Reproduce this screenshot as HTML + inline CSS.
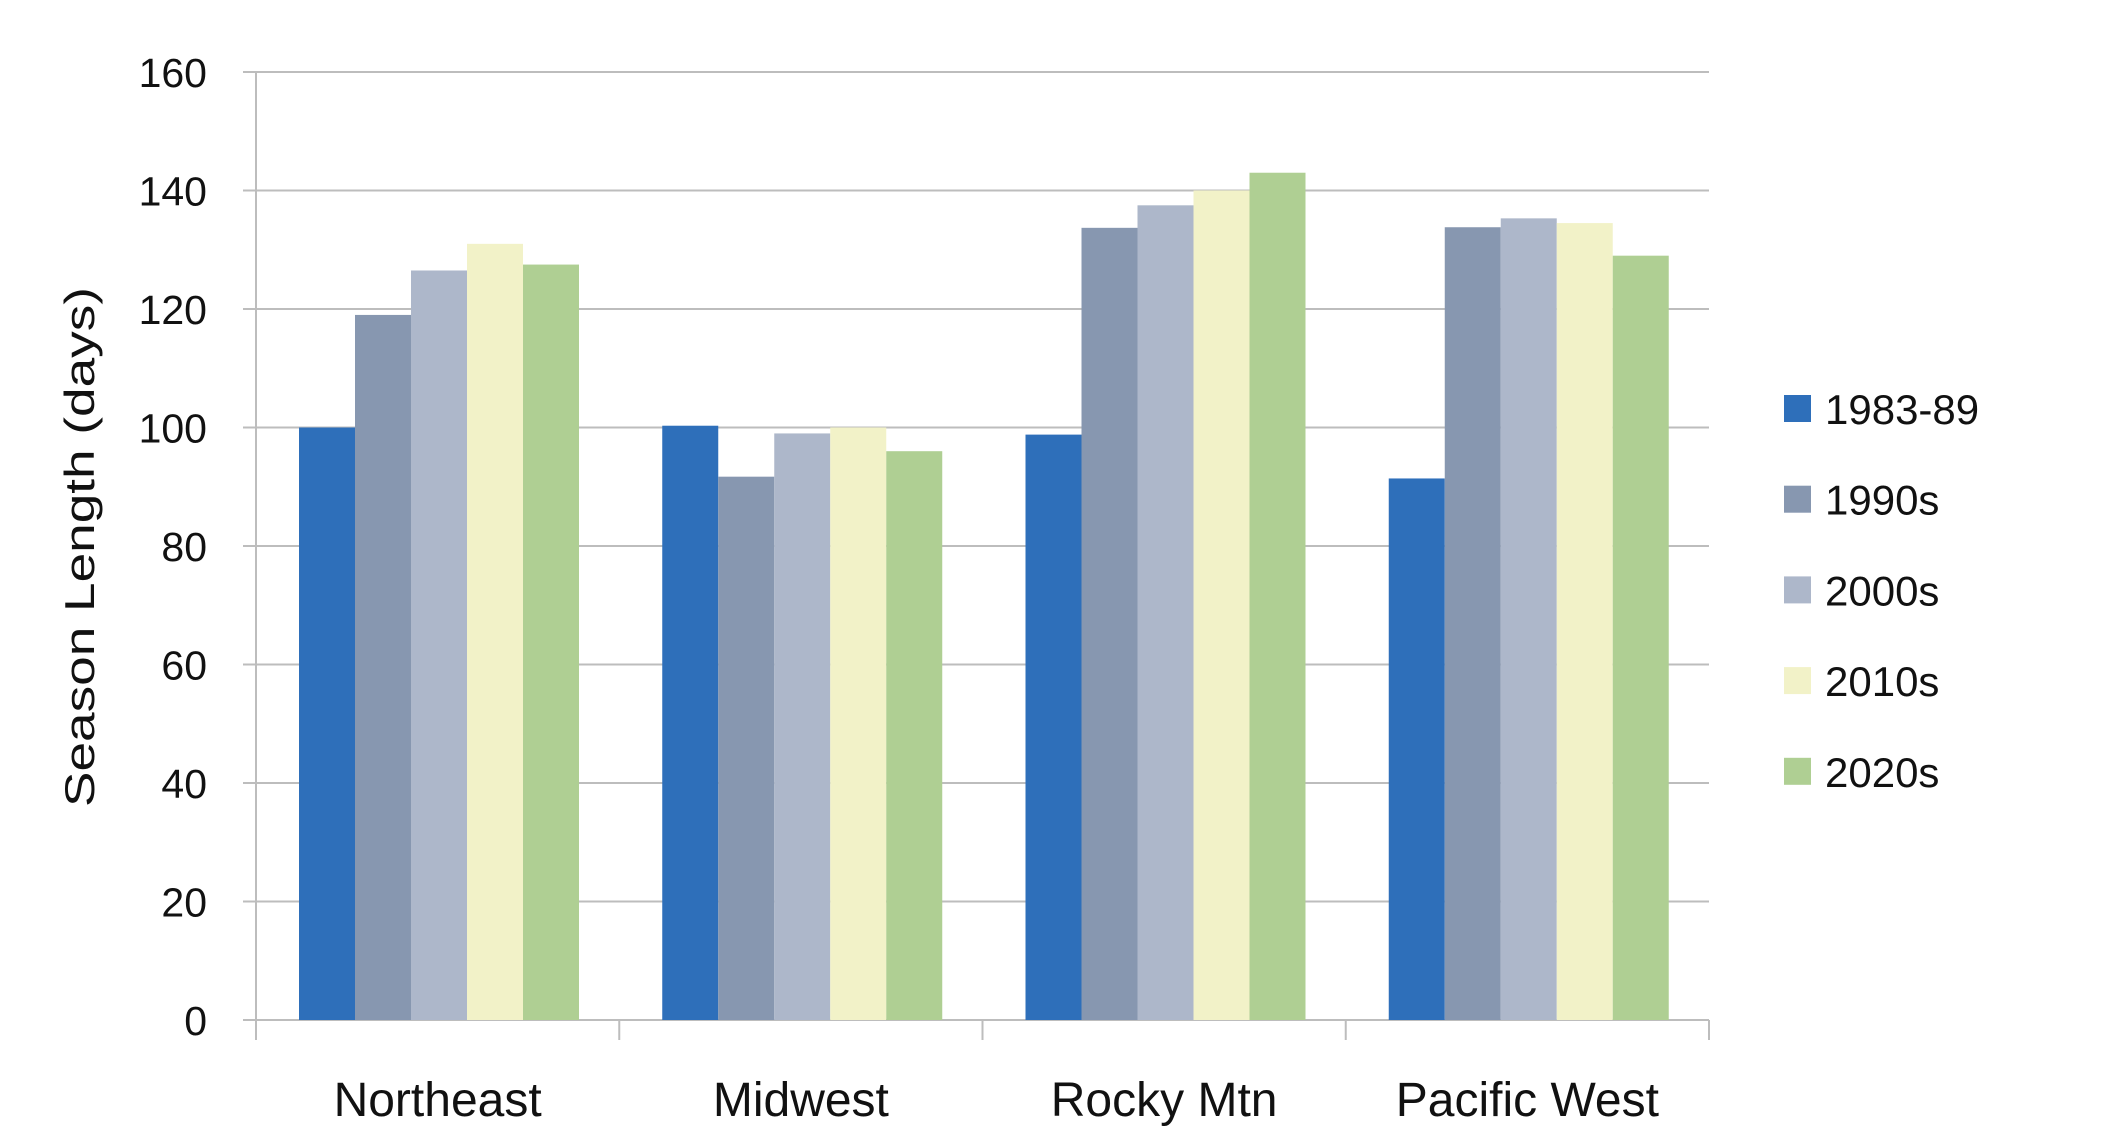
<!DOCTYPE html>
<html><head><meta charset="utf-8"><style>
html,body{margin:0;padding:0;background:#fff;}
svg{display:block;font-family:"Liberation Sans",sans-serif;}
</style></head><body>
<svg id="chart" width="2112" height="1142" viewBox="0 0 2112 1142" xmlns="http://www.w3.org/2000/svg">
<g id="grid"></g>
<g id="bars"></g>
<g id="axes"></g>
<g id="legend"></g>
<text transform="translate(94,547) rotate(-90)" text-anchor="middle" font-size="42" fill="#111" textLength="520" lengthAdjust="spacingAndGlyphs">Season Length (days)</text>
</svg>
<script>
const categories = ["Northeast","Midwest","Rocky Mtn","Pacific West"];
const seriesNames = ["1983-89","1990s","2000s","2010s","2020s"];
const s1983 = [100, 100.3, 98.8, 91.4];
const s1990 = [119, 91.7, 133.7, 133.8];
const s2000 = [126.5, 99, 137.5, 135.3];
const s2010 = [131, 100, 140, 134.5];
const s2020 = [127.5, 96, 143, 129];
const yTicks = [0,20,40,60,80,100,120,140,160];
const series = [s1983,s1990,s2000,s2010,s2020];
const colors = ["#2e6fba","#8797b0","#adb7ca","#f2f2c8","#afcf93"];
const NS="http://www.w3.org/2000/svg";
const L=256,R=1709,T=72,B=1020,yMax=160;
const y=v=>B-(v/yMax)*(B-T);
const gw=(R-L)/categories.length;
const bw=56, off=43;
const x=(ci,si)=>L+ci*gw+off+si*bw;
function mk(tag,attrs,parent){const e=document.createElementNS(NS,tag);for(const k in attrs)e.setAttribute(k,attrs[k]);parent.appendChild(e);return e;}
const grid=document.getElementById('grid'),bars=document.getElementById('bars'),axes=document.getElementById('axes'),legend=document.getElementById('legend');
yTicks.forEach(t=>{
  const ln=mk('line',{x1:243,x2:R,y1:y(t),y2:y(t),stroke:'#bdbdbd','stroke-width':2},grid);
  
  
  const tx=mk('text',{x:207,y:y(t)+15,'text-anchor':'end','font-size':41,fill:'#111'},axes);
  tx.textContent=t;
  
  
});
series.forEach((s,si)=>{s.forEach((v,ci)=>{
  const r=mk('rect',{x:x(ci,si),y:y(v),width:bw,height:B-y(v),fill:colors[si]},bars);
  
  
});});
const ya=mk('line',{x1:L,x2:L,y1:T,y2:B,stroke:'#bdbdbd','stroke-width':2},axes);


for(let i=0;i<=categories.length;i++){
  const tk=mk('line',{x1:L+i*gw,x2:L+i*gw,y1:B,y2:1040,stroke:'#bdbdbd','stroke-width':2},axes);
  
  
}
categories.forEach((c,ci)=>{
  const tx=mk('text',{x:L+ci*gw+gw/2,y:1116,'text-anchor':'middle','font-size':48,fill:'#111'},axes);
  tx.textContent=c;
  
  
});
seriesNames.forEach((n,si)=>{
  const ly=409+si*90.7;
  const sq=mk('rect',{x:1784,y:ly-14,width:27,height:27,fill:colors[si]},legend);
  
  
  const tx=mk('text',{x:1825,y:ly+15,'font-size':42,fill:'#111'},legend);
  tx.textContent=n;
  
  
});
</script>
</body></html>
